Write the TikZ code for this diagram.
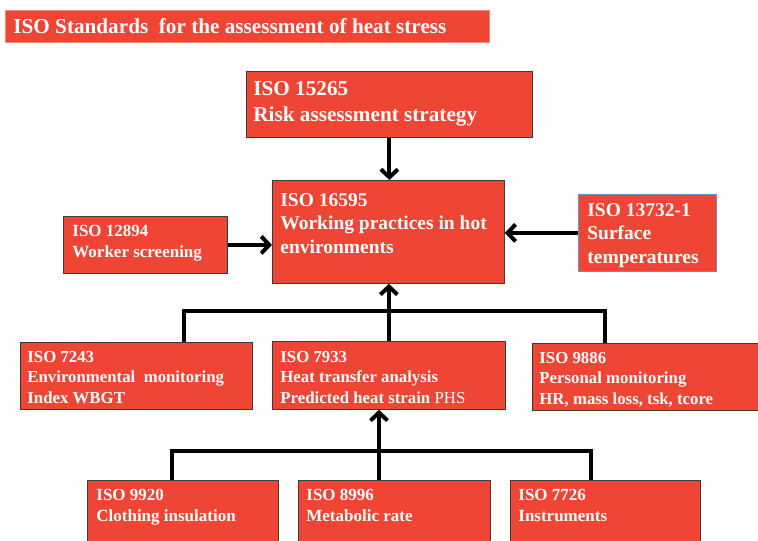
\documentclass[tikz,border=0pt]{standalone}
\usepackage{fontspec}
\setmainfont{Liberation Serif}
\usepackage{xcolor}
\usetikzlibrary{arrows.meta}

\definecolor{isored}{HTML}{EF4535}
\definecolor{boxline}{HTML}{3C3C3C}
\definecolor{titleline}{HTML}{F2887A}
\definecolor{blueline}{HTML}{6A8FCF}

% width, height, first baseline, text
\newcommand{\isotext}[4]{\parbox[t][#2][t]{#1}{\raggedright\rule{0pt}{#3}#4}}

\begin{document}
\begin{tikzpicture}[x=1pt,y=-1pt]
\tikzset{
  isobox/.style={draw=boxline, line width=0.8pt, fill=isored, text=white, inner xsep=8pt, inner ysep=0pt, anchor=north west},
  bigfont/.style={font=\fontsize{21.2}{26}\selectfont\bfseries},
  midfont/.style={font=\fontsize{19.5}{23.5}\selectfont\bfseries},
  smallfont/.style={font=\fontsize{16.8}{20.5}\selectfont\bfseries},
  lowfont/.style={font=\fontsize{17}{21}\selectfont\bfseries},
  conn/.style={line width=4pt, black},
  arr/.style={conn, -{Straight Barb[length=8pt,width=17pt]}}
}
\useasboundingbox (0,0) rectangle (758,541);

% title
\node[isobox, draw=titleline, bigfont] (title) at (5,10) {\isotext{468pt}{32pt}{23pt}{ISO Standards\ \ for the assessment of heat stress}};

% top
\node[isobox, inner xsep=7pt, bigfont] (n15265) at (246,71) {\isotext{272pt}{66pt}{24pt}{ISO 15265\\Risk assessment strategy}};
\node[isobox, midfont] (n16595) at (272,180) {\isotext{216pt}{103pt}{26pt}{ISO 16595\\Working practices in hot environments}};
\node[isobox, inner xsep=9pt, lowfont] (n12894) at (63,216) {\isotext{146pt}{57pt}{20pt}{ISO 12894\\Worker screening}};
\node[isobox, draw=blueline, inner xsep=9pt, midfont] (n13732) at (578,194) {\isotext{120pt}{77pt}{22pt}{ISO 13732-1\\Surface\\temperatures}};

% middle row
\node[isobox, inner xsep=7pt, smallfont] (n7243) at (20,342) {\isotext{218pt}{67pt}{20pt}{ISO 7243\\Environmental\ \ monitoring\\Index WBGT}};
\node[isobox, smallfont] (n7933) at (272,341) {\isotext{217pt}{68pt}{21pt}{ISO 7933\\Heat transfer analysis\\Predicted heat strain {\mdseries PHS}}};
\node[isobox, inner xsep=7pt, smallfont] (n9886) at (532,343) {\isotext{212pt}{67pt}{20pt}{ISO 9886\\Personal monitoring\\HR, mass loss, tsk, tcore}};

% bottom row
\node[isobox, inner xsep=9pt, lowfont] (n9920) at (87,480) {\isotext{173pt}{62pt}{20pt}{ISO 9920\\Clothing insulation}};
\node[isobox, lowfont] (n8996) at (298,480) {\isotext{176pt}{62pt}{20pt}{ISO 8996\\Metabolic rate}};
\node[isobox, lowfont] (n7726) at (510,480) {\isotext{174pt}{62pt}{20pt}{ISO 7726\\Instruments}};

% bars
\coordinate (mleft) at (184,311);
\coordinate (mright) at (605,311);
\coordinate (bleft) at (172,451);
\coordinate (bright) at (591,451);
\coordinate (bmid) at (379,451);

% arrows
\draw[arr] (n15265.south) -- (n15265.south |- n16595.north);
\draw[arr] (n12894.east) -- (n12894.east -| n16595.west);
\draw[arr] (n13732.west) -- (n13732.west -| n16595.east);
\draw[conn] (n7243.north -| mleft) -- (mleft) -- (mright) -- (n9886.north -| mright);
\draw[arr] (n7933.north) -- (n7933.north |- n16595.south);
\draw[conn] (n9920.north -| bleft) -- (bleft) -- (bright) -- (n7726.north -| bright);
\draw[arr] (n8996.north -| bmid) -- (n7933.south -| bmid);
\end{tikzpicture}
\end{document}
